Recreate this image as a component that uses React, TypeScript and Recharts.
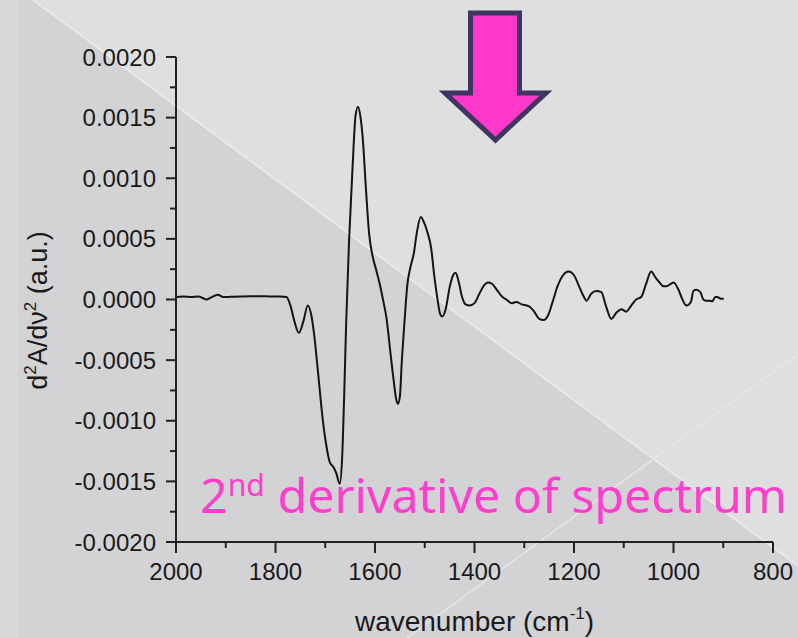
import React from "react";
import { LineChart, Line, XAxis, YAxis } from "recharts";

const wavenumbers = [
  2000, 1985, 1970, 1955, 1945, 1939, 1930, 1916, 1905, 1890, 1870, 1850, 1830, 1810, 1790, 1778,
  1770, 1762, 1753, 1744, 1735, 1728, 1722, 1715, 1705, 1698, 1691, 1684, 1678, 1671, 1666, 1662,
  1658, 1652, 1645, 1639, 1634, 1629, 1625, 1618, 1612, 1605, 1598, 1590, 1583, 1577, 1570, 1563,
  1557, 1554, 1550, 1546, 1541, 1535, 1528, 1522, 1516, 1508, 1502, 1495, 1487, 1481, 1475, 1469,
  1465, 1458, 1450, 1443, 1438, 1432, 1425, 1418, 1410, 1400, 1390, 1380, 1373, 1365, 1355, 1346,
  1336, 1325, 1316, 1305, 1295, 1289, 1280, 1270, 1261, 1252, 1243, 1233, 1222, 1211, 1200, 1190,
  1180, 1175, 1165, 1155, 1145, 1136, 1125, 1115, 1105, 1095, 1085, 1075, 1065, 1055, 1045, 1036,
  1028, 1020, 1014, 1005, 1000, 990, 982, 974, 965, 960, 954, 946, 940, 935, 928, 922,
  916, 912, 905, 899,
];

// second derivative d2A/dv2 (a.u.)
const secondDerivative = [
  0.00002, 0.000025, 0.00002, 0.000025, 0.00001, 0.0, 0.000015, 0.00004, 0.00002, 0.000022, 0.000025, 0.000027, 0.000027, 0.000025, 0.000025, 0.00002,
  -0.00005, -0.00018, -0.000275, -0.00018, -0.00005, -0.00013, -0.0003, -0.00058, -0.00099, -0.0012, -0.00134, -0.00138, -0.00143, -0.00152, -0.0013, -0.0008,
  -0.0002, 0.0005, 0.0011, 0.00152, 0.00159, 0.0015, 0.00135, 0.0009, 0.00055, 0.00036, 0.00025, 0.00012, -0.00002, -0.00015, -0.0004, -0.00065,
  -0.00083, -0.00086, -0.0008, -0.0005, -0.0002, 0.00012, 0.00028, 0.00038, 0.00055, 0.00068, 0.00064, 0.00056, 0.00042, 0.0002, 0.00002, -0.00012,
  -0.00014, -0.00008, 0.0001, 0.0002, 0.00022, 0.00015, 0.00002, -0.00004, -0.00005, -0.00003, 0.00005, 0.00012, 0.00014, 0.00013, 0.00008, 0.00003,
  0.0, -0.00003, -0.00002, -0.00004, -0.00005, -0.00006, -0.0001, -0.00016, -0.00017, -0.00013, -0.00002, 0.00011, 0.0002, 0.00023, 0.0002, 0.00011,
  0.00002, -0.00001, 0.00005, 0.00007, 0.00006, -0.00005, -0.00016, -0.00011, -0.00008, -0.0001, -0.00005, 0.0, 0.00002, 0.00013, 0.00023, 0.00018,
  0.00014, 0.00011, 0.00011, 0.00013, 0.00014, 0.00008, 0.0, -0.00005, -0.00002, 0.00007, 0.00008, 0.00006, 0.0, -0.00001, -0.00001, -0.000015,
  0.00002, 0.00002, 0.000006, 0.000006,
];

const xTicks = [2000, 1900, 1800, 1700, 1600, 1500, 1400, 1300, 1200, 1100, 1000, 900, 800];
const yTicks = [
  -0.002, -0.00175, -0.0015, -0.00125, -0.001, -0.00075, -0.0005, -0.00025, 0,
  0.00025, 0.0005, 0.00075, 0.001, 0.00125, 0.0015, 0.00175, 0.002,
];

const data = wavenumbers.map((wn, i) => ({ wn, d2: secondDerivative[i] }));

const AXIS = "#222";
const FONT = 'Arial, "Liberation Sans", sans-serif';
const PINK = "#ff3dcc";

const YTick = (props: any) => {
  const { x, y, payload } = props;
  const v = payload.value;
  const major = Math.abs(Math.round(v / 0.0005) * 0.0005 - v) < 1e-9;
  const label = Math.abs(v) < 1e-12 ? "0.0000" : v.toFixed(4);
  return (
    <g>
      <line x1={x} x2={x - (major ? 10 : 6)} y1={y} y2={y} stroke={AXIS} strokeWidth={2} />
      {major && (
        <text x={x - 20} y={y} textAnchor="end" dominantBaseline="central" fontSize={24} fontFamily={FONT} fill="#1a1a1a">
          {label}
        </text>
      )}
    </g>
  );
};

const XTick = (props: any) => {
  const { x, y, payload } = props;
  const v = payload.value;
  const major = v % 200 === 0;
  return (
    <g>
      <line x1={x} x2={x} y1={y} y2={y + (major ? 11 : 6)} stroke={AXIS} strokeWidth={2} />
      {major && (
        <text x={x} y={y + 29} textAnchor="middle" dominantBaseline="central" fontSize={24} fontFamily={FONT} fill="#1a1a1a">
          {v}
        </text>
      )}
    </g>
  );
};

const YTitle = (props: any) => {
  const { viewBox } = props;
  const cx = viewBox.x + 47;
  const cy = viewBox.y + viewBox.height / 2 + 11;
  return (
    <text
      x={cx}
      y={cy}
      transform={`rotate(-90, ${cx}, ${cy})`}
      textAnchor="middle"
      fontSize={27}
      fontFamily={FONT}
      fill="#1a1a1a"
    >
      <tspan>d</tspan>
      <tspan dy={-11} fontSize={17}>2</tspan>
      <tspan dy={11}>A/dν</tspan>
      <tspan dy={-11} fontSize={17}>2</tspan>
      <tspan dy={11}> (a.u.)</tspan>
    </text>
  );
};

const XTitle = (props: any) => {
  const { viewBox } = props;
  const cx = viewBox.x + viewBox.width / 2;
  const cy = viewBox.y + 89;
  return (
    <text x={cx} y={cy} textAnchor="middle" fontSize={28} fontFamily={FONT} fill="#1a1a1a">
      <tspan>wavenumber (cm</tspan>
      <tspan dy={-12} fontSize={17}>-1</tspan>
      <tspan dy={12}>)</tspan>
    </text>
  );
};

export default function App() {
  return (
    <div style={{ position: "absolute", left: 0, top: 0, width: 798, height: 638, overflow: "hidden" }}>
      {/* slide background */}
      <svg width={798} height={638} style={{ position: "absolute", left: 0, top: 0 }}>
        <rect x={0} y={0} width={798} height={638} fill="#d3d3d6" />
        <rect x={0} y={0} width={18} height={638} fill="#d8d8da" />
        <polygon points="33,0 798,0 798,566" fill="#dfdfdf" />
        <line x1={33} y1={0} x2={798} y2={566} stroke="#ececec" strokeWidth={1.5} />
        <line x1={407} y1={638} x2={798} y2={354} stroke="#e6e6e6" strokeWidth={1.5} />
      </svg>

      <div style={{ position: "absolute", left: 0, top: 0 }}>
        <LineChart width={798} height={638} data={data} margin={{ top: 57, right: 25, left: 0, bottom: 0 }}>
          <XAxis
            dataKey="wn"
            type="number"
            domain={[800, 2000]}
            reversed
            ticks={xTicks}
            interval={0}
            height={96}
            tickSize={0}
            tickMargin={0}
            tickLine={false}
            tick={<XTick />}
            axisLine={{ stroke: AXIS, strokeWidth: 2 }}
            label={<XTitle />}
          />
          <YAxis
            type="number"
            domain={[-0.002, 0.002]}
            ticks={yTicks}
            interval={0}
            width={176}
            tickSize={0}
            tickMargin={0}
            tickLine={false}
            tick={<YTick />}
            axisLine={{ stroke: AXIS, strokeWidth: 2 }}
            label={<YTitle />}
          />
          <Line
            type="monotone"
            dataKey="d2"
            stroke="#141414"
            strokeWidth={2}
            dot={false}
            isAnimationActive={false}
          />
        </LineChart>
      </div>

      {/* annotations */}
      <svg width={798} height={638} style={{ position: "absolute", left: 0, top: 0, pointerEvents: "none" }}>
        <polygon
          points="470.5,13 519.5,13 519.5,93 546,93 495.5,140 445,93 470.5,93"
          fill="#ff38cc"
          stroke="#3f3563"
          strokeWidth={5}
          strokeLinejoin="miter"
        />
        <text
          x={200}
          y={513}
          fontSize={48}
          fontFamily='"Comic Sans MS", "Noto Sans", sans-serif'
          fill={PINK}
          textLength={587}
          lengthAdjust="spacingAndGlyphs"
        >
          <tspan>2</tspan>
          <tspan dy={-17} fontSize={30}>nd</tspan>
          <tspan dy={17}> derivative of spectrum</tspan>
        </text>
      </svg>
    </div>
  );
}
